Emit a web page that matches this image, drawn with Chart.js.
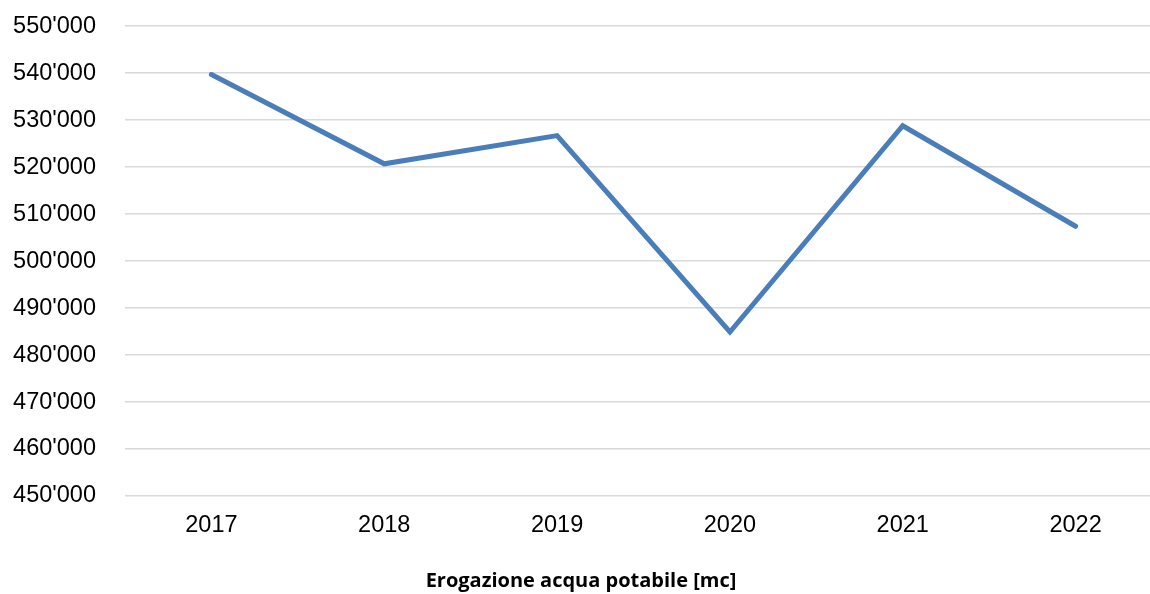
<!DOCTYPE html>
<html>
<head>
<meta charset="utf-8">
<script src="https://cdn.jsdelivr.net/npm/chart.js@4.4.1/dist/chart.umd.min.js"></script>
<style>
  html, body { margin:0; padding:0; background:#fff; overflow:hidden; }
  #wrap { position:relative; top:-17px; width:1162px; height:611px; }
</style>
</head>
<body>
<div id="wrap"><canvas id="c"></canvas></div>
<script>
const years = ['2017','2018','2019','2020','2021','2022'];
const erogazione = [539700, 520700, 526700, 484900, 528800, 507400];
const yMin = 450000, yMax = 550000, yStep = 10000;
const chartTitle = 'Erogazione acqua potabile [mc]';

const F = "'Liberation Sans', Arial, sans-serif";
const fmt = v => String(v).replace(/\B(?=(\d{3})+(?!\d))/g, "'");

new Chart(document.getElementById('c'), {
  type: 'line',
  data: {
    labels: years,
    datasets: [{
      data: erogazione,
      borderColor: '#4a7ebb',
      borderWidth: 5,
      borderCapStyle: 'round',
      borderJoinStyle: 'miter',
      pointRadius: 0,
      tension: 0,
      fill: false
    }]
  },
  options: {
    responsive: true, maintainAspectRatio: false, animation: false,
    layout: { padding: 0 },
    plugins: {
      legend: { display: false },
      tooltip: { enabled: false },
      // centred on the whole canvas, not on the plot area
      title: { display: true, position: 'bottom', text: chartTitle, color: '#000',
        font: { size: 20, family: "'Open Sans', sans-serif", weight: 'bold', lineHeight: 1.2 },
        padding: { top: 30, bottom: 1 } }
    },
    scales: {
      x: {
        offset: true,
        grid: { display: false, drawTicks: false },
        border: { display: false },
        ticks: { color: '#000', font: { size: 23.5, family: F }, padding: 15, maxRotation: 0 },
        afterFit: a => { a.height = 43; }
      },
      y: {
        min: yMin, max: yMax,
        grid: { color: '#d9d9d9', lineWidth: 1.5, drawTicks: false },
        border: { display: false },
        ticks: { stepSize: yStep, color: '#000', font: { size: 23.5, family: F }, padding: 29, callback: v => fmt(v) },
        afterFit: a => { a.width = 125; }
      }
    }
  }
});
</script>
</body>
</html>
